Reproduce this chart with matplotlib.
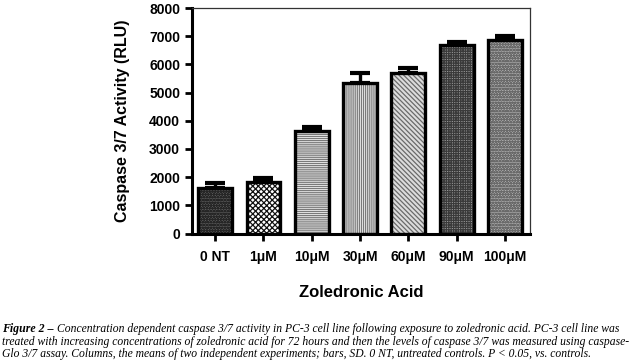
import numpy as np
import matplotlib
matplotlib.use('Agg')
import matplotlib.pyplot as plt

# data
labels = ['0 NT', '1\u03bcM', '10\u03bcM', '30\u03bcM', '60\u03bcM', '90\u03bcM', '100\u03bcM']
means = [1620, 1830, 3640, 5340, 5700, 6680, 6880]
sds = [170, 140, 150, 350, 180, 120, 130]
hatches = ['oooooo', 'xxxxxx', '--------', '||||||||', '\\\\\\\\\\\\\\', '+++++++', 'oooooo']
faces = ['#5c5c5c', '#ffffff', '#f2f2f2', '#f2f2f2', '#dcdcdc', '#9a9a9a', '#b0b0b0']
hatchcolors = ['#262626', '#111111', '#7a7a7a', '#7a7a7a', '#6a6a6a', '#3a3a3a', '#6a6a6a']

caption = [
	'Concentration dependent caspase 3/7 activity in PC-3 cell line following exposure to zoledronic acid. PC-3 cell line was',
	'treated with increasing concentrations of zoledronic acid for 72 hours and then the levels of caspase 3/7 was measured using caspase-',
	'Glo 3/7 assay. Columns, the means of two independent experiments; bars, SD. 0 NT, untreated controls. P < 0.05, vs. controls.',
]

plt.rcParams['font.family'] = ['Liberation Sans', 'DejaVu Sans']
plt.rcParams['hatch.linewidth'] = 0.9

fig = plt.figure(figsize=(6.4, 3.62), dpi=100)
ax = fig.add_axes([192/640, 1-233.5/362, 338/640, 225.5/362])

x = np.arange(len(means))
# hatch layer (grey lines), then black outline on top
fill = ax.bar(x, means, width=0.7, color=faces, linewidth=0, zorder=2)
for b, h, c in zip(fill, hatches, hatchcolors):
	b.set_hatch(h)
	b.set_edgecolor(c)
ax.bar(x, means, width=0.7, fill=False, edgecolor='black', linewidth=2.4, zorder=3)
ax.errorbar(x, means, yerr=[np.zeros(len(sds)), sds], fmt='none', ecolor='black',
	elinewidth=2.4, capsize=7, capthick=3, zorder=1)

ax.set_xlim(-0.48, 6.52)
ax.set_ylim(0, 8000)
ax.set_yticks(np.arange(0, 8001, 1000))
ax.set_xticks(x)
ax.set_xticklabels(labels)

for s in ['left', 'bottom']:
	ax.spines[s].set_linewidth(2.2)
for s in ['top', 'right']:
	ax.spines[s].set_linewidth(0.9)
	ax.spines[s].set_color('#333333')

ax.tick_params(axis='both', direction='out', length=5, width=2, labelsize=10)
ax.tick_params(axis='x', pad=7)
for t in ax.get_yticklabels() + ax.get_xticklabels():
	t.set_fontweight('bold')

ax.set_ylabel('Caspase 3/7 Activity (RLU)', fontsize=11.5, fontweight='bold', labelpad=14)
ax.set_xlabel('Zoledronic Acid', fontsize=12, fontweight='bold', labelpad=15)

# caption
serif = ['Liberation Serif', 'DejaVu Serif']
fs = 8.35
fig.canvas.draw()
r = fig.canvas.get_renderer()
head = fig.text(2/640, 1-329/362, 'Figure 2 \u2013 ', family=serif, style='italic', weight='bold',
	fontsize=fs + 0.2, va='center', ha='left')
w = head.get_window_extent(r).width
fig.text((2+w)/640, 1-329/362, caption[0], family=serif, style='italic', fontsize=fs, va='center', ha='left')
fig.text(2/640, 1-341.5/362, caption[1], family=serif, style='italic', fontsize=fs, va='center', ha='left')
fig.text(2/640, 1-354/362, caption[2], family=serif, style='italic', fontsize=fs, va='center', ha='left')

fig.savefig('out.png', dpi=100)
